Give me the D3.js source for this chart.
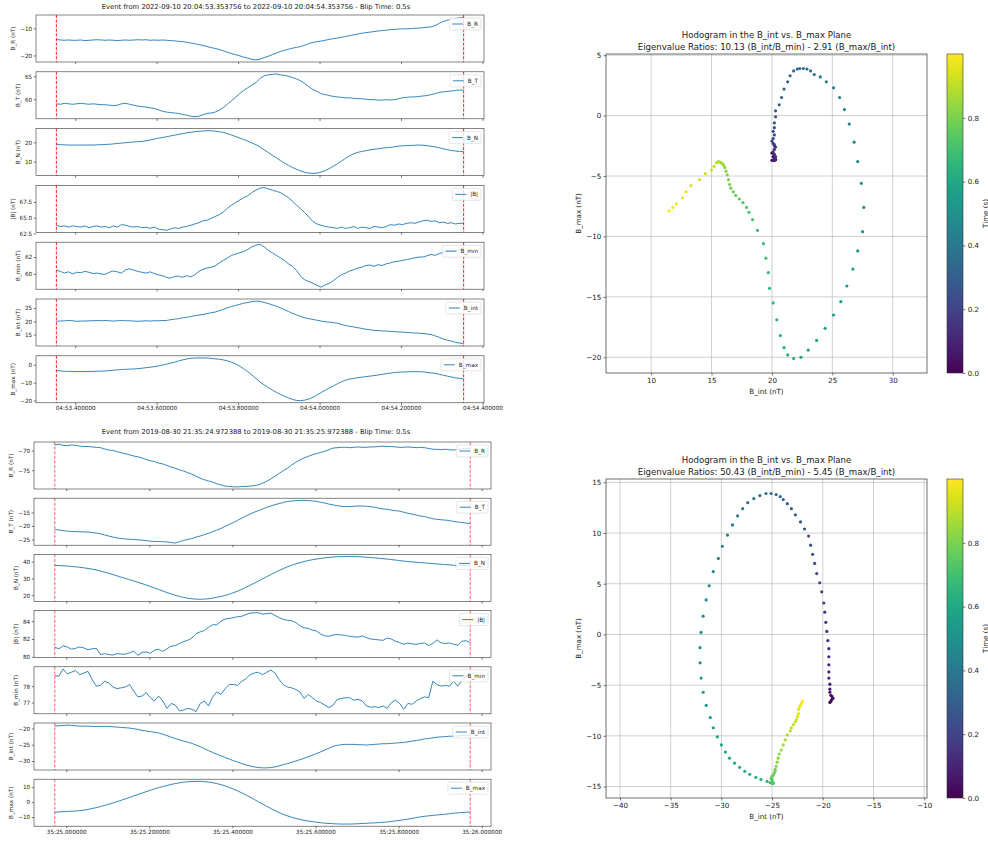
<!DOCTYPE html>
<html><head><meta charset="utf-8">
<script src="https://cdn.jsdelivr.net/npm/d3@7"></script>
<style>body{margin:0;background:#fff}svg{display:block;font-family:"DejaVu Sans",sans-serif}</style>
</head><body><svg id="c" width="988" height="843"></svg>
<script>
// ---------- sampling (relative time within the 1 s window) ----------
const sampleCount = 101, sampleStep = 0.01;
const relTime = d3.range(sampleCount).map(i => i * sampleStep);

// ---------- Event 1 ----------
const ev1Title = "Event from 2022-09-10 20:04:53.353756 to 2022-09-10 20:04:54.353756 - Blip Time: 0.5s";
const ev1Start = 53.353756;
const ev1TickValues = [53.4, 53.6, 53.8, 54.0, 54.2, 54.4];
const ev1TickLabels = ["04:53.400000","04:53.600000","04:53.800000","04:54.000000","04:54.200000","04:54.400000"];
const ev1BR = [-14.1,-14.3,-14.4,-14.3,-14.4,-14.4,-14.3,-14.5,-14.4,-14.3,
-14.2,-14.3,-14.4,-14.3,-14.4,-14.5,-14.4,-14.3,-14.4,-14.3,
-14.2,-14.3,-14.2,-14.4,-14.3,-14.4,-14.3,-14.4,-14.5,-14.6,
-14.8,-14.9,-15.1,-15.4,-15.7,-16.0,-16.3,-16.7,-17.1,-17.4,
-17.8,-18.3,-18.8,-19.3,-19.7,-20.1,-20.6,-21.0,-21.4,-21.6,
-21.3,-20.8,-20.3,-19.7,-19.1,-18.5,-18.1,-17.7,-17.3,-17.0,
-16.7,-16.2,-15.6,-15.2,-14.9,-14.7,-14.4,-14.1,-13.8,-13.6,
-13.3,-13.0,-12.7,-12.4,-12.1,-11.8,-11.6,-11.4,-11.2,-11.0,
-10.8,-10.7,-10.5,-10.4,-10.3,-10.2,-10.2,-10.1,-10.0,-9.9,
-9.8,-9.6,-9.5,-9.0,-8.2,-7.5,-7.0,-6.7,-6.4,-6.2,
-5.9];
const ev1BT = [59.0,58.9,59.1,59.0,58.9,59.0,59.1,59.0,58.9,59.0,
58.9,58.8,58.8,58.7,58.6,58.7,59.0,59.1,58.9,58.7,
58.5,58.4,58.3,58.1,58.0,57.7,57.4,57.2,57.1,57.0,
56.9,56.7,56.5,56.3,56.2,56.3,56.6,56.9,57.0,57.2,
57.6,58.2,58.9,59.7,60.4,61.2,61.9,62.5,63.1,63.6,
64.5,65.1,65.3,65.4,65.5,65.3,65.2,65.0,64.7,64.4,
64.0,63.4,62.7,62.1,61.7,61.2,61.0,60.8,60.6,60.5,
60.4,60.3,60.3,60.2,60.1,60.1,60.0,59.9,59.9,59.8,
59.8,59.9,59.8,59.9,60.1,60.3,60.4,60.5,60.5,60.6,
60.7,60.8,61.0,61.2,61.5,61.6,61.7,61.8,61.9,62.0,
62.0];
const ev1BN = [19.1,18.8,18.7,18.6,18.6,18.6,18.6,18.6,18.6,18.6,
18.7,18.8,18.9,19.0,19.2,19.4,19.6,19.8,20.0,20.2,
20.3,20.5,20.8,21.2,21.7,22.1,22.5,22.9,23.3,23.7,
24.1,24.5,24.9,25.2,25.5,25.7,25.9,26.0,26.0,25.8,
25.5,25.1,24.5,23.8,23.0,22.2,21.5,20.6,19.7,18.8,
17.6,16.2,14.8,13.4,12.0,10.6,9.3,8.1,7.0,6.0,
5.2,4.5,4.1,3.9,4.1,4.6,5.4,6.4,7.6,8.9,
10.3,11.7,13.0,14.1,14.8,15.3,15.7,16.1,16.4,16.7,
17.0,17.2,17.4,17.7,18.0,18.2,18.3,18.4,18.5,18.6,
18.5,18.3,18.0,17.6,17.2,16.7,16.2,15.8,15.5,15.3,
15.1];
const ev1BMag = [63.8,63.6,63.7,63.5,63.7,63.6,63.5,63.7,63.4,63.6,
63.7,63.5,63.6,63.4,63.7,63.5,63.9,63.8,63.6,63.5,
63.6,63.4,63.5,63.3,63.5,63.2,63.1,63.0,63.2,63.4,
63.3,63.5,63.6,63.8,64.0,64.2,64.5,64.6,64.9,65.2,
65.5,65.9,66.5,67.0,67.4,67.8,68.2,68.5,69.0,69.4,
69.7,69.8,69.6,69.4,69.2,69.0,68.6,68.2,67.6,67.0,
66.4,65.8,65.1,64.4,64.0,63.8,63.6,63.5,63.4,63.3,
63.5,63.3,63.4,63.6,63.3,63.5,63.4,63.3,63.6,63.5,
63.4,63.6,63.9,63.8,64.0,63.9,64.1,64.2,64.1,64.3,
64.5,64.6,64.4,64.5,64.2,64.3,64.1,64.2,64.0,64.1,
64.1];
const ev1BMin = [60.45,60.3,60.1,60.25,60.0,60.2,60.15,60.3,60.2,60.05,
60.1,60.0,59.95,60.2,60.35,60.25,60.1,60.5,60.6,60.45,
60.3,60.2,60.1,60.25,60.05,59.9,59.8,59.6,59.5,59.7,
59.75,59.6,59.8,59.65,59.9,60.3,60.55,60.7,60.8,60.95,
61.3,61.6,61.9,62.2,62.35,62.5,62.65,62.9,63.2,63.4,
63.5,63.2,62.8,62.5,62.2,61.9,61.6,61.2,60.9,60.4,
59.7,59.3,59.1,58.9,58.65,58.45,58.7,58.9,59.2,59.6,
59.9,60.1,60.35,60.5,60.7,60.8,61.0,61.05,60.9,61.1,
61.0,61.2,61.3,61.45,61.5,61.6,61.7,61.8,61.9,62.0,
62.0,62.15,62.3,62.2,62.4,62.55,62.7,62.8,62.75,62.9,
62.85];
const ev1BInt = [20.0,20.1,20.2,20.3,20.2,20.0,20.1,20.1,20.2,20.2,
20.3,20.2,20.3,20.2,20.1,20.2,20.3,20.2,20.2,20.1,
20.0,20.1,20.2,20.1,20.2,20.2,20.3,20.3,20.6,20.8,
21.0,21.3,21.5,21.8,22.1,22.3,22.6,22.9,23.2,23.5,
24.0,24.5,25.1,25.6,26.0,26.4,26.8,27.1,27.4,27.6,
27.5,27.1,26.7,26.2,25.7,25.1,24.4,23.7,23.0,22.4,
21.8,21.3,21.0,20.7,20.4,20.1,19.8,19.7,19.5,19.3,
18.8,18.4,18.1,17.9,17.6,17.3,17.0,16.8,16.6,16.5,
16.4,16.3,16.2,16.1,16.0,15.9,15.8,15.7,15.6,15.5,
15.4,15.2,15.0,14.5,14.0,13.3,12.9,12.6,12.1,11.8,
11.5];
const ev1BMax = [-3.1,-3.4,-3.6,-3.65,-3.7,-3.7,-3.7,-3.7,-3.7,-3.65,
-3.6,-3.5,-3.4,-3.2,-3.0,-2.8,-2.6,-2.5,-2.4,-2.3,
-2.1,-1.9,-1.6,-1.3,-1.0,-0.6,-0.1,0.4,0.9,1.5,
2.2,2.8,3.3,3.7,3.85,3.9,3.9,3.85,3.7,3.4,
3.2,2.8,2.3,1.5,0.5,-0.7,-2.2,-3.8,-5.6,-7.6,
-9.6,-11.2,-12.7,-14.1,-15.4,-16.5,-17.6,-18.6,-19.4,-20.0,
-20.1,-19.8,-19.2,-18.2,-16.9,-15.5,-14.3,-13.0,-11.8,-10.6,
-9.5,-8.6,-8.0,-7.6,-7.2,-6.9,-6.6,-6.3,-6.0,-5.7,
-5.3,-4.9,-4.6,-4.3,-4.1,-4.0,-3.9,-3.85,-3.8,-3.85,
-3.9,-4.2,-4.5,-4.8,-5.3,-5.8,-6.3,-6.8,-7.3,-7.6,
-7.9];
const ev1YTicks = [[-20,-10],[60,65],[10,20],[62.5,65,67.5],[60,62],[15,20,25],[-20,-10,0]];
const ev1Ratios = "Eigenvalue Ratios: 10.13 (B_int/B_min) - 2.91 (B_max/B_int)";
const hodo1XTicks = [10,15,20,25,30];
const hodo1YTicks = [-20,-15,-10,-5,0,5];

// ---------- Event 2 ----------
const ev2Title = "Event from 2019-08-30 21:35:24.972388 to 2019-08-30 21:35:25.972388 - Blip Time: 0.5s";
const ev2Start = 24.972388;
const ev2TickValues = [25.0, 25.2, 25.4, 25.6, 25.8, 26.0];
const ev2TickLabels = ["35:25.000000","35:25.200000","35:25.400000","35:25.600000","35:25.800000","35:26.000000"];
const ev2BR = [-68.6,-68.4,-68.7,-68.8,-68.6,-68.7,-68.9,-69.0,-69.0,-69.1,
-69.2,-69.3,-69.6,-69.9,-70.0,-70.3,-70.6,-70.8,-71.1,-71.4,
-71.6,-71.9,-72.3,-72.6,-72.8,-73.2,-73.4,-73.8,-74.2,-74.5,
-74.9,-75.2,-75.6,-76.0,-76.5,-77.0,-77.4,-77.7,-78.0,-78.4,
-78.7,-79.0,-79.1,-79.2,-79.2,-79.1,-79.1,-79.0,-78.9,-78.7,
-78.3,-77.8,-77.2,-76.5,-75.8,-75.1,-74.5,-73.7,-73.0,-72.4,
-71.9,-71.5,-71.1,-70.8,-70.5,-70.2,-69.8,-69.4,-69.3,-69.2,
-69.2,-69.3,-69.2,-69.1,-69.2,-69.2,-69.1,-69.1,-69.0,-68.9,
-69.0,-69.0,-69.1,-69.2,-69.2,-69.1,-69.2,-69.3,-69.2,-69.3,
-69.5,-69.7,-69.7,-69.8,-69.7,-69.8,-69.9,-69.7,-69.6,-69.5,
-69.5];
const ev2BT = [-21.2,-21.5,-21.7,-21.9,-22.0,-22.1,-22.1,-22.2,-22.2,-22.4,
-22.6,-22.9,-23.3,-23.7,-24.1,-24.4,-24.6,-24.8,-24.9,-25.0,
-25.1,-25.2,-25.4,-25.6,-25.7,-25.7,-25.8,-25.9,-26.1,-26.3,
-25.8,-25.3,-25.0,-24.6,-24.1,-23.7,-23.2,-22.7,-22.1,-21.5,
-20.9,-20.1,-19.4,-18.7,-17.9,-17.1,-16.3,-15.6,-14.9,-14.3,
-13.7,-13.1,-12.6,-12.1,-11.7,-11.3,-10.9,-10.8,-10.6,-10.5,
-10.5,-10.6,-10.7,-10.9,-11.2,-11.5,-11.9,-12.2,-12.5,-12.7,
-12.8,-12.8,-12.7,-12.6,-12.6,-12.7,-12.8,-13.1,-13.4,-13.7,
-13.8,-14.1,-14.3,-14.5,-14.9,-15.3,-15.6,-15.9,-16.3,-16.5,
-16.9,-17.3,-17.5,-17.7,-17.8,-18.0,-18.3,-18.5,-18.7,-18.9,
-19.1];
const ev2BN = [37.8,37.6,37.5,37.3,37.1,36.9,36.6,36.3,35.9,35.5,
35.0,34.4,33.7,33.0,32.3,31.5,30.7,30.0,29.2,28.5,
27.7,26.9,26.1,25.2,24.3,23.4,22.5,21.6,20.8,20.0,
19.3,18.7,18.2,17.9,17.7,17.6,17.7,17.9,18.3,18.8,
19.3,19.9,20.6,21.5,22.4,23.5,24.7,25.9,27.1,28.4,
29.7,31.0,32.3,33.5,34.7,35.8,36.9,37.8,38.6,39.3,
40.0,40.6,41.1,41.5,41.9,42.2,42.5,42.7,42.9,43.0,
43.0,43.0,43.0,42.9,42.8,42.6,42.4,42.2,42.0,41.7,
41.5,41.2,40.9,40.6,40.3,40.0,39.8,39.6,39.4,39.2,
39.0,38.8,38.6,38.4,38.2,38.0,37.8,37.7,37.6,37.5,
37.5];
const ev2BMag = [81.07,80.9,81.25,81.1,80.85,80.95,81.1,81.0,80.8,80.9,
80.95,80.25,80.35,80.25,80.2,80.35,80.3,80.3,80.45,80.65,
80.15,80.5,80.55,80.4,80.75,80.85,80.6,80.9,81.2,81.25,
81.5,81.7,81.85,82.1,82.6,82.8,82.95,83.3,83.6,83.6,
84.0,84.25,84.3,84.4,84.5,84.55,84.75,84.9,84.95,84.95,
84.8,84.85,84.9,84.65,84.4,84.2,84.1,84.05,83.85,83.5,
83.25,83.2,83.0,82.9,82.55,82.35,82.3,82.45,82.5,82.45,
82.4,82.3,82.25,82.2,82.35,82.15,82.0,81.95,81.9,81.85,
82.1,82.0,81.75,81.6,81.4,81.55,81.45,81.4,81.5,81.55,
81.25,81.5,81.9,81.55,81.5,81.55,81.4,81.3,81.75,81.8,
81.6];
const ev2BMin = [78.66,78.6,79.05,78.75,78.85,78.95,78.7,78.8,78.9,78.4,
78.0,78.05,78.3,78.2,77.95,77.85,77.9,77.95,78.1,77.7,
77.35,77.4,77.6,77.3,77.1,77.4,77.1,76.65,76.95,76.85,
76.5,76.55,76.65,76.6,76.45,76.95,77.1,76.8,77.35,77.65,
77.5,77.85,78.1,78.1,78.05,78.3,78.45,78.7,78.8,78.85,
78.7,78.85,78.98,78.8,78.4,78.1,77.95,77.9,77.8,77.65,
77.25,77.5,77.3,77.1,77.0,76.85,76.7,76.85,77.2,77.25,
77.3,77.3,77.15,77.2,77.1,76.8,76.72,76.75,76.7,76.8,
76.65,77.0,77.15,76.95,76.6,76.95,76.9,77.1,77.25,77.35,
77.3,78.3,78.1,78.0,78.05,78.0,78.3,78.0,78.35,78.6,
78.72];
const ev2BInt = [-19.3,-19.2,-19.1,-19.0,-19.1,-19.2,-19.3,-19.3,-19.3,-19.4,
-19.4,-19.4,-19.4,-19.4,-19.5,-19.6,-19.7,-19.8,-19.9,-20.1,
-20.3,-20.6,-20.8,-21.0,-21.2,-21.4,-21.8,-22.2,-22.7,-23.1,
-23.5,-23.9,-24.2,-24.6,-25.1,-25.6,-26.2,-26.8,-27.4,-27.9,
-28.4,-28.9,-29.4,-29.9,-30.3,-30.8,-31.2,-31.5,-31.8,-32.0,
-32.1,-32.1,-32.0,-31.8,-31.5,-31.1,-30.8,-30.4,-30.0,-29.6,
-29.2,-28.7,-28.2,-27.7,-27.2,-26.6,-26.1,-25.5,-25.2,-25.0,
-24.9,-24.9,-24.9,-25.0,-25.0,-25.1,-25.0,-24.9,-24.8,-24.7,
-24.7,-24.6,-24.5,-24.4,-24.3,-24.1,-23.9,-23.7,-23.5,-23.2,
-23.1,-22.9,-22.7,-22.6,-22.5,-22.4,-22.4,-22.3,-22.2,-22.1,
-22.0];
const ev2BMax = [-6.7,-6.6,-6.4,-6.3,-6.1,-6.0,-5.7,-5.4,-4.9,-4.3,
-3.7,-3.0,-2.2,-1.4,-0.6,0.3,1.2,2.2,3.1,4.2,
5.1,6.0,7.0,7.9,8.8,9.7,10.4,11.1,11.8,12.4,
12.9,13.3,13.6,13.8,13.9,13.9,13.7,13.4,13.0,12.4,
11.7,10.8,9.8,8.7,7.5,6.2,4.8,3.4,1.8,0.2,
-1.3,-2.8,-4.3,-5.7,-7.0,-8.2,-9.2,-10.1,-10.9,-11.6,
-12.2,-12.7,-13.1,-13.5,-13.8,-14.1,-14.3,-14.5,-14.6,-14.7,
-14.7,-14.7,-14.6,-14.5,-14.3,-14.2,-14.0,-13.9,-13.7,-13.5,
-13.3,-13.0,-12.6,-12.2,-11.8,-11.4,-10.9,-10.4,-9.9,-9.5,
-9.2,-8.9,-8.6,-8.4,-8.1,-7.8,-7.4,-7.2,-7.0,-6.8,
-6.6];
const ev2YTicks = [[-75,-70],[-25,-20,-15],[20,30,40],[80,82,84],[77,78],[-30,-25,-20],[-10,0,10]];
const ev2Ratios = "Eigenvalue Ratios: 50.43 (B_int/B_min) - 5.45 (B_max/B_int)";
const hodo2XTicks = [-40,-35,-30,-25,-20,-15,-10];
const hodo2YTicks = [-15,-10,-5,0,5,10,15];

const panelLabels = ["B_R","B_T","B_N","|B|","B_min","B_int","B_max"];
const hodoTitle = "Hodogram in the B_int vs. B_max Plane";
const colorbarTicks = [0,0.2,0.4,0.6,0.8];

// ---------- drawing ----------
const svg = d3.select("#c");
const TXT = "#1a1a1a", C0 = "#1f77b4";
const minus = s => s.replace(/-/g, "\u2212");
const fmtFor = vals => {
  const dec = vals.some(v => Math.abs(v - Math.round(v)) > 1e-9) ? 1 : 0;
  return d => minus(d.toFixed(dec));
};
function styleAxis(g, fs) {
  g.attr("font-family", null).attr("font-size", fs);
  g.select(".domain").remove();
  g.selectAll(".tick line").attr("stroke", "#222").attr("stroke-width", 0.6);
  g.selectAll(".tick text").attr("fill", TXT);
}

function drawStack(cfg) {
  const {left, right, top0, step, h, titleY, title, start, tickVals, tickLabels, series, yTicks, redOpacity} = cfg;
  const x = d3.scaleLinear().domain([start - 0.05, start + 1.05]).range([left, right]);
  svg.append("text").attr("x", 256).attr("y", titleY).attr("text-anchor", "middle")
    .attr("dominant-baseline", "central").attr("font-size", 6.8).attr("fill", TXT).text(title);
  series.forEach((vals, i) => {
    const y0 = top0 + i * step;
    const ext = d3.extent(vals), pad = (ext[1] - ext[0]) * 0.05;
    const y = d3.scaleLinear().domain([ext[0] - pad, ext[1] + pad]).range([y0 + h, y0]);
    const g = svg.append("g");
    g.append("path").datum(vals)
      .attr("d", d3.line().x((d, j) => x(start + relTime[j])).y(d => y(d)))
      .attr("fill", "none").attr("stroke", C0).attr("stroke-width", 0.9).attr("stroke-linejoin", "round");
    [start, start + 1].forEach(v => g.append("line")
      .attr("x1", x(v)).attr("x2", x(v)).attr("y1", y0).attr("y2", y0 + h)
      .attr("stroke", "red").attr("stroke-width", 0.9).attr("stroke-dasharray", "3,1.6").attr("opacity", redOpacity));
    g.append("rect").attr("x", left).attr("y", y0).attr("width", right - left).attr("height", h)
      .attr("fill", "none").attr("stroke", "#333").attr("stroke-width", 0.6);
    const ya = g.append("g").attr("transform", `translate(${left},0)`)
      .call(d3.axisLeft(y).tickValues(yTicks[i]).tickSize(2.2).tickPadding(1.6).tickFormat(fmtFor(yTicks[i])));
    styleAxis(ya, 5.7);
    const last = i === series.length - 1;
    const xa = g.append("g").attr("transform", `translate(0,${y0 + h})`)
      .call(d3.axisBottom(x).tickValues(tickVals).tickSize(2.2).tickPadding(1.4)
        .tickFormat((d, k) => last ? tickLabels[k] : ""));
    styleAxis(xa, 5.7);
    const maxW = d3.max(ya.selectAll(".tick text").nodes(), n => n.getComputedTextLength());
    g.append("text").attr("transform", `translate(${left - 3.8 - maxW - 5},${y0 + h / 2}) rotate(-90)`)
      .attr("text-anchor", "middle").attr("font-size", 5.7).attr("fill", TXT).text(panelLabels[i] + " (nT)");
    // legend
    const lg = g.append("g");
    const txt = lg.append("text").attr("font-size", 5.7).attr("fill", TXT).text(panelLabels[i]);
    const tw = txt.node().getComputedTextLength();
    const bw = 3 + 11 + 4 + tw + 3, bh = 12;
    const bx = right - 3 - bw, by = y0 + 3;
    lg.insert("rect", "text").attr("x", bx).attr("y", by).attr("width", bw).attr("height", bh)
      .attr("rx", 1.5).attr("fill", "#fff").attr("fill-opacity", 0.8).attr("stroke", "#d5d5d5").attr("stroke-width", 0.6);
    lg.append("line").attr("x1", bx + 3).attr("x2", bx + 14).attr("y1", by + bh / 2).attr("y2", by + bh / 2)
      .attr("stroke", C0).attr("stroke-width", 0.9);
    txt.attr("x", bx + 18).attr("y", by + bh / 2).attr("dominant-baseline", "central");
  });
}

const defs = svg.append("defs");
const grad = defs.append("linearGradient").attr("id", "viridis").attr("x1", 0).attr("y1", 1).attr("x2", 0).attr("y2", 0);
d3.range(0, 1.0001, 0.05).forEach(s => grad.append("stop").attr("offset", s).attr("stop-color", d3.interpolateViridis(s)));

function drawHodo(cfg) {
  const {left, right, top, bottom, bint, bmax, xTicks, yTicks, ratios, t1Y, t2Y} = cfg;
  const W = right - left, H = bottom - top;
  const ex = d3.extent(bint), ey = d3.extent(bmax);
  const px = (ex[1] - ex[0]) * 0.05, py = (ey[1] - ey[0]) * 0.05;
  let xd = [ex[0] - px, ex[1] + px], yd = [ey[0] - py, ey[1] + py];
  const k = Math.max((xd[1] - xd[0]) / W, (yd[1] - yd[0]) / H);
  const cx = (xd[0] + xd[1]) / 2, cy = (yd[0] + yd[1]) / 2;
  xd = [cx - k * W / 2, cx + k * W / 2]; yd = [cy - k * H / 2, cy + k * H / 2];
  const x = d3.scaleLinear().domain(xd).range([left, right]);
  const y = d3.scaleLinear().domain(yd).range([bottom, top]);
  const tmax = d3.max(relTime);
  const color = d3.scaleSequential(d3.interpolateViridis).domain([0, tmax]);
  const g = svg.append("g");
  xTicks.forEach(v => g.append("line").attr("x1", x(v)).attr("x2", x(v)).attr("y1", top).attr("y2", bottom)
    .attr("stroke", "#b0b0b0").attr("stroke-width", 0.6));
  yTicks.forEach(v => g.append("line").attr("x1", left).attr("x2", right).attr("y1", y(v)).attr("y2", y(v))
    .attr("stroke", "#b0b0b0").attr("stroke-width", 0.6));
  g.selectAll("circle.pt").data(bint).join("circle").attr("class", "pt")
    .attr("cx", d => x(d)).attr("cy", (d, j) => y(bmax[j])).attr("r", 1.6)
    .attr("fill", (d, j) => color(relTime[j]));
  g.append("rect").attr("x", left).attr("y", top).attr("width", W).attr("height", H)
    .attr("fill", "none").attr("stroke", "#333").attr("stroke-width", 0.7);
  const xa = g.append("g").attr("transform", `translate(0,${bottom})`)
    .call(d3.axisBottom(x).tickValues(xTicks).tickSize(2.5).tickPadding(2.2).tickFormat(fmtFor(xTicks)));
  styleAxis(xa, 7.1);
  const ya = g.append("g").attr("transform", `translate(${left},0)`)
    .call(d3.axisLeft(y).tickValues(yTicks).tickSize(2.5).tickPadding(2.2).tickFormat(fmtFor(yTicks)));
  styleAxis(ya, 7.1);
  const maxW = d3.max(ya.selectAll(".tick text").nodes(), n => n.getComputedTextLength());
  g.append("text").attr("transform", `translate(${left - 4.7 - maxW - 5.5},${(top + bottom) / 2}) rotate(-90)`)
    .attr("text-anchor", "middle").attr("font-size", 7.1).attr("fill", TXT).text("B_max (nT)");
  g.append("text").attr("x", (left + right) / 2).attr("y", bottom + 18).attr("text-anchor", "middle")
    .attr("dominant-baseline", "central").attr("font-size", 7.1).attr("fill", TXT).text("B_int (nT)");
  g.append("text").attr("x", (left + right) / 2).attr("y", t1Y).attr("text-anchor", "middle")
    .attr("dominant-baseline", "central").attr("font-size", 8.6).attr("fill", TXT).text(hodoTitle);
  g.append("text").attr("x", (left + right) / 2).attr("y", t2Y).attr("text-anchor", "middle")
    .attr("dominant-baseline", "central").attr("font-size", 8.6).attr("fill", TXT).text(ratios);
  // colorbar
  const cbL = 947, cbR = 963;
  g.append("rect").attr("x", cbL).attr("y", top).attr("width", cbR - cbL).attr("height", H).attr("fill", "url(#viridis)");
  g.append("rect").attr("x", cbL).attr("y", top).attr("width", cbR - cbL).attr("height", H)
    .attr("fill", "none").attr("stroke", "#333").attr("stroke-width", 0.6);
  const cs = d3.scaleLinear().domain([0, tmax]).range([bottom, top]);
  const ca = g.append("g").attr("transform", `translate(${cbR},0)`)
    .call(d3.axisRight(cs).tickValues(colorbarTicks).tickSize(2.5).tickPadding(2.2).tickFormat(d => d.toFixed(1)));
  styleAxis(ca, 7.1);
  g.append("text").attr("transform", `translate(987.5,${(top + bottom) / 2}) rotate(-90)`)
    .attr("text-anchor", "middle").attr("font-size", 7.1).attr("fill", TXT).text("Time (s)");
}

drawStack({left: 36, right: 484, top0: 15, step: 56.8, h: 47, titleY: 7, title: ev1Title, start: ev1Start,
  tickVals: ev1TickValues, tickLabels: ev1TickLabels,
  series: [ev1BR, ev1BT, ev1BN, ev1BMag, ev1BMin, ev1BInt, ev1BMax], yTicks: ev1YTicks, redOpacity: 1});
drawStack({left: 34, right: 491, top0: 442, step: 56.2, h: 47, titleY: 432, title: ev2Title, start: ev2Start,
  tickVals: ev2TickValues, tickLabels: ev2TickLabels,
  series: [ev2BR, ev2BT, ev2BN, ev2BMag, ev2BMin, ev2BInt, ev2BMax], yTicks: ev2YTicks, redOpacity: 0.7});
drawHodo({left: 606, right: 927, top: 54, bottom: 373, bint: ev1BInt, bmax: ev1BMax,
  xTicks: hodo1XTicks, yTicks: hodo1YTicks, ratios: ev1Ratios, t1Y: 35, t2Y: 47});
drawHodo({left: 606, right: 927, top: 479, bottom: 798, bint: ev2BInt, bmax: ev2BMax,
  xTicks: hodo2XTicks, yTicks: hodo2YTicks, ratios: ev2Ratios, t1Y: 460, t2Y: 472});
</script></body></html>
